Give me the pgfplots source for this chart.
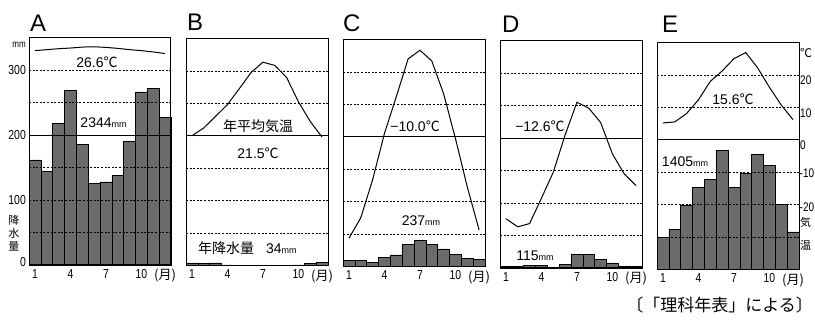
\documentclass[border=0pt]{standalone}
\usepackage{fontspec}
\setmainfont{Liberation Sans}
\newfontfamily\cjk{Noto Sans CJK JP}
\newfontfamily\narrow[FakeStretch=0.8]{Liberation Sans}
\usepackage{pgfplots}
\usepackage{pgfplotstable}
\pgfplotsset{compat=1.18}

% m = month, P = precipitation (mm), T = temperature (deg C)
\pgfplotstableread{
m P T
1 162 26.1
2 144 26.4
3 218 26.7
4 269 26.9
5 186 27.2
6 126 27.3
7 128 27.1
8 138 26.8
9 191 26.4
10 267 26.1
11 272 25.7
12 228 25.2
}\dataA
\pgfplotstableread{
m P T
1 4 0.0
2 3 2.4
3 4 6.0
4 1 9.6
5 0.5 14.5
6 0 19.5
7 0 22.7
8 0 21.7
9 0 18.0
10 1 10.5
11 3 4.4
12 5 -0.4
}\dataB
\pgfplotstableread{
m P T
1 9 -31.3
2 10 -25.0
3 6 -13.3
4 14 1.0
5 18 12.3
6 34 24.0
7 40 26.7
8 34 23.4
9 27 13.3
10 19 -0.5
11 13 -15.4
12 11 -28.7
}\dataC
\pgfplotstableread{
m P T
1 3 -24.8
2 2 -27.3
3 3.5 -26.3
4 3.5 -18.5
5 1.5 -10.5
6 6 1.0
7 21 11.1
8 21 9.3
9 13 4.9
10 8 -4.8
11 3 -11.0
12 2 -14.6
}\dataD
\pgfplotstableread{
m P T
1 50 5.2
2 62 5.5
3 99 8.1
4 126 12.3
5 139 18.0
6 184 21.2
7 126 25.0
8 148 26.9
9 178 22.2
10 161 16.2
11 100 10.7
12 58 6.2
}\dataE

\newcommand{\dC}{{\cjk ℃}}
\newcommand{\mmu}{{\fontsize{9}{9}\selectfont mm}}
\newcommand{\lbl}{\fontsize{14}{14}\selectfont}
\newcommand{\tkf}{\narrow\fontsize{13}{13}\selectfont}
\newcommand{\rtf}{\narrow\fontsize{12.5}{12.5}\selectfont}

\pgfplotsset{
  panel/.style={scale only axis, width=142pt, height=227pt, anchor=south west,
    xmin=0.5, xmax=12.5, clip=false},
  precip/.style={panel, ymin=0, ymax=350, axis on top,
    axis line style={line width=1pt},
    ytick={50,100,150,250,300}, yticklabels={}, ymajorgrids,
    major grid style={black, line width=0.8pt, dash pattern=on 2pt off 1.6pt},
    extra y ticks={200}, extra y tick labels={},
    extra y tick style={major grid style={black, solid, line width=1pt}},
    major tick length=0pt,
    xtick={1,4,7,10,12}, xticklabels={1,4,7,10,{\cjk(月)}},
    xticklabel style={font=\tkf, inner sep=0pt, yshift=-4pt}},
  temp/.style={panel, ymin=-40, ymax=30, hide axis},
}

\newcommand{\panel}[5]{%
  \begin{axis}[precip, at={(#1pt,#2pt)}]
    \addplot[ybar, bar width=1, bar shift=0pt, fill=black!58, draw=black, line width=0.6pt] table[x=m,y=P]{#3};
    #4
  \end{axis}
  \begin{axis}[temp, at={(#1pt,#2pt)}]
    \addplot[black, line width=1pt, mark=none] table[x=m,y=T]{#3};
    #5
  \end{axis}}

\begin{document}
\begin{tikzpicture}
\path[use as bounding box] (0,0) rectangle (815pt,320pt);

% panel letters
\node[anchor=base west, font=\fontsize{24}{24}\selectfont, inner sep=0pt] at (30pt,288pt) {A};
\node[anchor=base west, font=\fontsize{24}{24}\selectfont, inner sep=0pt] at (187pt,289pt) {B};
\node[anchor=base west, font=\fontsize{24}{24}\selectfont, inner sep=0pt] at (343pt,288pt) {C};
\node[anchor=base west, font=\fontsize{24}{24}\selectfont, inner sep=0pt] at (502pt,287pt) {D};
\node[anchor=base west, font=\fontsize{24}{24}\selectfont, inner sep=0pt] at (662pt,287pt) {E};

\panel{29}{55}{\dataA}{%
  \node[font=\lbl] at (axis cs:6.25,313) {26.6\dC};
  \node[font=\lbl] at (axis cs:6.8,220) {2344\mmu};
  \node[anchor=east, font=\tkf, inner sep=0pt, xshift=-3pt] at (axis cs:0.5,300) {300};
  \node[anchor=east, font=\tkf, inner sep=0pt, xshift=-3pt] at (axis cs:0.5,200) {200};
  \node[anchor=east, font=\tkf, inner sep=0pt, xshift=-3pt] at (axis cs:0.5,100) {100};
  \node[anchor=east, font=\tkf, inner sep=0pt, xshift=-3pt] at (axis cs:0.5,5) {0};
  \node[anchor=east, font=\narrow\fontsize{10}{10}\selectfont, inner sep=0pt, xshift=-3pt] at (axis cs:0.5,339) {mm};
  \node[font=\cjk\fontsize{11}{13}\selectfont, align=center, inner sep=0pt, xshift=-15pt] at (axis cs:0.5,49) {降\\水\\量};
}{}

\panel{186}{54.5}{\dataB}{%
  \node[font=\cjk\lbl] at (axis cs:6.59,214) {年平均気温};
  \node[font=\lbl] at (axis cs:6.59,173) {21.5\dC};
  \node[anchor=west, font=\lbl, inner sep=0pt] at (axis cs:1.51,26) {{\cjk 年降水量}\hspace{12pt}34\mmu};
}{}

\panel{343}{53.5}{\dataC}{%
  \node[font=\lbl] at (axis cs:6.59,217) {−10.0\dC};
  \node[font=\lbl] at (axis cs:7.09,71) {237\mmu};
}{}

\panel{500}{52}{\dataD}{%
  \node[font=\lbl] at (axis cs:3.88,219) {−12.6\dC};
  \node[font=\lbl] at (axis cs:3.46,18.5) {115\mmu};
}{}

\panel{657}{50.5}{\dataE}{%
  \node[font=\lbl] at (axis cs:6.92,262) {15.6\dC};
  \node[font=\lbl] at (axis cs:2.87,166) {1405\mmu};
}{%
  \node[anchor=west, font=\cjk\fontsize{12}{12}\selectfont, inner sep=0pt, xshift=1pt] at (axis cs:12.5,26.8) {℃};
  \node[anchor=west, font=\rtf, inner sep=0pt, xshift=1pt] at (axis cs:12.5,18.4) {20};
  \node[anchor=west, font=\rtf, inner sep=0pt, xshift=1pt] at (axis cs:12.5,8.3) {10};
  \node[anchor=west, font=\rtf, inner sep=0pt, xshift=1pt] at (axis cs:12.5,-1.6) {0};
  \node[anchor=west, font=\rtf, inner sep=0pt, xshift=0.5pt] at (axis cs:12.5,-10.2) {-10};
  \node[anchor=west, font=\rtf, inner sep=0pt, xshift=0.5pt] at (axis cs:12.5,-20.7) {-20};
  \node[anchor=west, font=\cjk\fontsize{11}{11}\selectfont, inner sep=0pt, xshift=1pt] at (axis cs:12.5,-25.4) {気};
  \node[anchor=west, font=\cjk\fontsize{11}{11}\selectfont, inner sep=0pt, xshift=1pt] at (axis cs:12.5,-32.4) {温};
}

\node[anchor=east, font=\cjk\fontsize{17}{17}\selectfont, inner sep=0pt] at (813pt,15pt) {〔「理科年表」による〕};
\end{tikzpicture}
\end{document}
